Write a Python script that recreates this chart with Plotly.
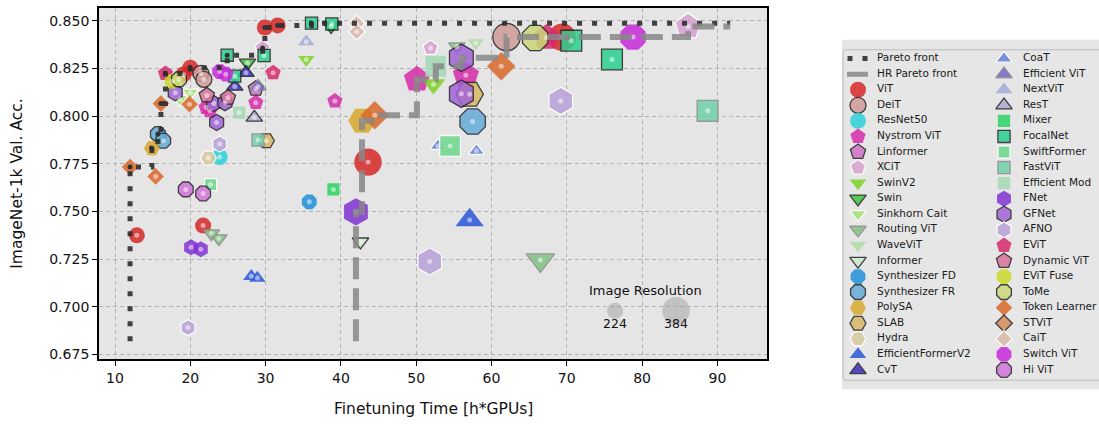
import plotly.graph_objects as go

# ---------------------------------------------------------------------------
# Finetuning cost [h*GPUs], ImageNet-1k top-1 accuracy and image resolution
# ---------------------------------------------------------------------------
vit_time = [12.9, 21.7, 19.1, 20.0, 29.9, 31.6, 43.6, 69.4]
vit_acc = [0.7375, 0.7426, 0.8219, 0.8254, 0.8465, 0.8476, 0.7759, 0.8414]
vit_res = [224, 224, 224, 224, 224, 224, 384, 384]

deit_time = [21.4, 21.8, 62.0]
deit_acc = [0.8224, 0.8193, 0.8415]
deit_res = [224, 224, 384]

resnet50_time = [23.9]
resnet50_acc = [0.7786]
resnet50_res = [224]

nystrom_time = [22.1, 22.6, 28.7, 39.2, 50.1, 56.6]
nystrom_acc = [0.8045, 0.8028, 0.8071, 0.8080, 0.8193, 0.8214]
nystrom_res = [224, 224, 224, 224, 384, 384]

linformer_time = [28.7]
linformer_acc = [0.8144]
linformer_res = [224]

xcit_time = [29.6, 51.9, 86.1]
xcit_acc = [0.8358, 0.8358, 0.8470]
xcit_res = [224, 224, 384]

swinv2_time = [35.4, 52.3]
swinv2_acc = [0.8297, 0.8167]
swinv2_res = [224, 320]

swin_time = [27.6, 38.7]
swin_acc = [0.8280, 0.8472]
swin_res = [224, 224]

sinkhorn_time = [18.6, 20.0]
sinkhorn_acc = [0.8089, 0.8123]
sinkhorn_res = [224, 224]

routing_time = [22.8, 23.8, 55.4, 66.5]
routing_acc = [0.7385, 0.7359, 0.8366, 0.7245]
routing_res = [224, 224, 224, 384]

wavevit_time = [57.9]
wavevit_acc = [0.8384]
wavevit_res = [224]

informer_time = [42.6]
informer_acc = [0.7342]
informer_res = [224]

synth_fd_time = [35.8]
synth_fd_acc = [0.7551]
synth_fd_res = [224]

synth_fr_time = [15.7, 16.4, 57.5]
synth_fr_acc = [0.7906, 0.7871, 0.7972]
synth_fr_res = [224, 224, 384]

polysa_time = [14.9, 42.8]
polysa_acc = [0.7832, 0.7976]
polysa_res = [224, 384]

slab_time = [30.1, 57.1]
slab_acc = [0.7871, 0.8115]
slab_res = [224, 384]

hydra_time = [22.4]
hydra_acc = [0.7780]
hydra_res = [224]

effformer2_time = [28.1, 28.9, 57.1]
effformer2_acc = [0.7160, 0.7151, 0.7455]
effformer2_res = [224, 224, 384]

cvt_time = [25.9, 27.4]
cvt_acc = [0.8155, 0.8228]
cvt_res = [224, 224]

coat_time = [52.9, 58.0]
coat_acc = [0.7844, 0.7818]
coat_res = [224, 224]

effvit_time = [29.0]
effvit_acc = [0.8155]
effvit_res = [224]

nextvit_time = [35.4]
nextvit_acc = [0.8391]
nextvit_res = [224]

rest_time = [28.5]
rest_acc = [0.7993]
rest_res = [224]

mixer_time = [39.0]
mixer_acc = [0.7616]
mixer_res = [224]

focalnet_time = [24.9, 25.9, 29.8, 36.1, 38.8, 70.6, 76.0]
focalnet_acc = [0.8320, 0.8210, 0.8318, 0.8488, 0.8484, 0.8396, 0.8297]
focalnet_res = [224, 224, 224, 224, 224, 384, 384]

swiftformer_time = [22.7, 54.5]
swiftformer_acc = [0.7641, 0.7844]
swiftformer_res = [224, 384]

fastvit_time = [29.0, 88.7]
fastvit_acc = [0.7875, 0.8028]
fastvit_res = [224, 384]

effmod_time = [26.5, 52.6]
effmod_acc = [0.8019, 0.8262]
effmod_res = [224, 384]

fnet_time = [20.1, 21.4, 42.0]
fnet_acc = [0.7313, 0.7302, 0.7498]
fnet_res = [224, 224, 384]

gfnet_time = [18.0, 23.1, 24.6, 23.5, 56.0, 56.0]
gfnet_acc = [0.8123, 0.8066, 0.8071, 0.7967, 0.8306, 0.8118]
gfnet_res = [224, 224, 224, 224, 384, 384]

afno_time = [23.9, 19.7, 51.8, 69.2]
afno_acc = [0.7854, 0.6891, 0.7238, 0.8080]
afno_res = [224, 224, 384, 384]

evit_time = [16.7, 31.0, 67.3]
evit_acc = [0.8224, 0.8228, 0.8412]
evit_res = [224, 224, 384]

dynvit_time = [22.2, 25.0]
dynvit_acc = [0.8109, 0.8097]
dynvit_res = [224, 224]

evitfuse_time = [17.6]
evitfuse_acc = [0.8182]
evitfuse_res = [224]

tome_time = [18.5, 65.8]
tome_acc = [0.8193, 0.8410]
tome_res = [224, 384]

toklearner_time = [12.0, 15.4, 16.1, 19.9, 44.5, 61.3]
toklearner_acc = [0.7733, 0.7684, 0.8066, 0.8063, 0.8005, 0.8262]
toklearner_res = [224, 224, 224, 224, 384, 384]

stvit_time = []
stvit_acc = []
stvit_res = []

cait_time = [42.1, 42.1]
cait_acc = [0.8486, 0.8443]
cait_res = [224, 224]

switchvit_time = [23.9, 24.7, 78.8]
switchvit_acc = [0.8234, 0.8220, 0.8415]
switchvit_res = [224, 224, 384]

hivit_time = [19.4, 21.7]
hivit_acc = [0.7616, 0.7594]
hivit_res = [224, 224]

# Resolutions shown in the size key
key_res = [224, 384]

# Fronts start at this accuracy and run on to this finetuning time
FRONT_FLOOR = 0.682
FRONT_END = 91.7

# ---------------------------------------------------------------------------
# Styling
# ---------------------------------------------------------------------------
W, H = 1099, 426
PLOT_L, PLOT_R, PLOT_T, PLOT_B = 99, 767, 8, 362
X_RANGE = [7.875, 96.59]
Y_RANGE = [0.6724, 0.85677]
FONT = "DejaVu Sans"
BASE = 16.0          # marker size at 224 px
ALPHA = 0.85

SCALE = {"circle": 1.0, "pentagon": 1.0, "hexagon": 1.0, "hexagon2": 1.0,
         "octagon": 1.0, "square": 0.76, "triangle-up": 0.9,
         "triangle-down": 0.9, "diamond": 0.8}
EDGE = {"none": ("rgba(0,0,0,0)", 0), "black": ("#222222", 1.3),
        "white": ("#ffffff", 1.3), "gray": ("#8a8a8a", 1.3)}

# (label, times, accs, resolutions, symbol, colour, edge)
families = [
    ("ViT", vit_time, vit_acc, vit_res, "circle", "#d62728", "none"),
    ("DeiT", deit_time, deit_acc, deit_res, "circle", "#d29c98", "black"),
    ("ResNet50", resnet50_time, resnet50_acc, resnet50_res, "circle", "#2bd0d8", "none"),
    ("Nystrom ViT", nystrom_time, nystrom_acc, nystrom_res, "pentagon", "#d42ba8", "none"),
    ("Linformer", linformer_time, linformer_acc, linformer_res, "pentagon", "#d070c4", "black"),
    ("XCiT", xcit_time, xcit_acc, xcit_res, "pentagon", "#d8a2cf", "white"),
    ("SwinV2", swinv2_time, swinv2_acc, swinv2_res, "triangle-down", "#7fd12a", "none"),
    ("Swin", swin_time, swin_acc, swin_res, "triangle-down", "#3fc43f", "black"),
    ("Sinkhorn Cait", sinkhorn_time, sinkhorn_acc, sinkhorn_res, "triangle-down", "#a6e07a", "white"),
    ("Routing ViT", routing_time, routing_acc, routing_res, "triangle-down", "#82c282", "gray"),
    ("WaveViT", wavevit_time, wavevit_acc, wavevit_res, "triangle-down", "#b2d9a4", "none"),
    ("Informer", informer_time, informer_acc, informer_res, "triangle-down", "#c9e9c9", "black"),
    ("Synthesizer FD", synth_fd_time, synth_fd_acc, synth_fd_res, "octagon", "#1f8fd8", "none"),
    ("Synthesizer FR", synth_fr_time, synth_fr_acc, synth_fr_res, "octagon", "#65abd8", "black"),
    ("PolySA", polysa_time, polysa_acc, polysa_res, "hexagon2", "#d8a82a", "none"),
    ("SLAB", slab_time, slab_acc, slab_res, "hexagon2", "#d9b865", "black"),
    ("Hydra", hydra_time, hydra_acc, hydra_res, "hexagon2", "#d9c9a0", "white"),
    ("EfficientFormerV2", effformer2_time, effformer2_acc, effformer2_res, "triangle-up", "#2a55d8", "none"),
    ("CvT", cvt_time, cvt_acc, cvt_res, "triangle-up", "#3a2cc0", "black"),
    ("CoaT", coat_time, coat_acc, coat_res, "triangle-up", "#6483d8", "white"),
    ("Efficient ViT", effvit_time, effvit_acc, effvit_res, "triangle-up", "#7468c6", "gray"),
    ("NextViT", nextvit_time, nextvit_acc, nextvit_res, "triangle-up", "#a3abd9", "none"),
    ("ResT", rest_time, rest_acc, rest_res, "triangle-up", "#b3a9d1", "black"),
    ("Mixer", mixer_time, mixer_acc, mixer_res, "square", "#2bd163", "none"),
    ("FocalNet", focalnet_time, focalnet_acc, focalnet_res, "square", "#2bd08f", "black"),
    ("SwiftFormer", swiftformer_time, swiftformer_acc, swiftformer_res, "square", "#6cd98b", "white"),
    ("FastViT", fastvit_time, fastvit_acc, fastvit_res, "square", "#70d1a9", "gray"),
    ("Efficient Mod", effmod_time, effmod_acc, effmod_res, "square", "#a2d9b4", "none"),
    ("FNet", fnet_time, fnet_acc, fnet_res, "hexagon", "#8031d2", "none"),
    ("GFNet", gfnet_time, gfnet_acc, gfnet_res, "hexagon", "#a263d8", "black"),
    ("AFNO", afno_time, afno_acc, afno_res, "hexagon", "#b9a2d9", "white"),
    ("EViT", evit_time, evit_acc, evit_res, "pentagon", "#d6296a", "none"),
    ("Dynamic ViT", dynvit_time, dynvit_acc, dynvit_res, "pentagon", "#d8749a", "black"),
    ("EViT Fuse", evitfuse_time, evitfuse_acc, evitfuse_res, "octagon", "#c9d82a", "none"),
    ("ToMe", tome_time, tome_acc, tome_res, "octagon", "#c9d878", "black"),
    ("Token Learner", toklearner_time, toklearner_acc, toklearner_res, "diamond", "#d8692a", "none"),
    ("STViT", stvit_time, stvit_acc, stvit_res, "diamond", "#d98b5a", "black"),
    ("CaiT", cait_time, cait_acc, cait_res, "diamond", "#d9b9a9", "white"),
    ("Switch ViT", switchvit_time, switchvit_acc, switchvit_res, "octagon", "#c62ad8", "none"),
    ("Hi ViT", hivit_time, hivit_acc, hivit_res, "octagon", "#d173d8", "black"),
]


def pareto(times, accs):
    """Running maximum of accuracy over increasing finetuning time."""
    order = sorted(range(len(times)), key=lambda i: (times[i], -accs[i]))
    fx, fy, best = [], [], -1.0
    for i in order:
        if accs[i] > best:
            best = accs[i]
            fx.append(times[i])
            fy.append(accs[i])
    return fx, fy


all_t, all_a, all_r = [], [], []
for _, t, a, r, *_ in families:
    all_t += t
    all_a += a
    all_r += r

front_t, front_a = pareto(all_t, all_a)
hr_idx = [i for i, r in enumerate(all_r) if r > 224]
hr_t, hr_a = pareto([all_t[i] for i in hr_idx], [all_a[i] for i in hr_idx])
on_front = set(zip(front_t, front_a))

fig = go.Figure()

# model families
for name, t, a, r, sym, col, edge in families:
    if not t:
        continue
    ec, ew = EDGE[edge]
    fig.add_trace(go.Scatter(
        x=t, y=a, mode="markers", name=name, showlegend=False,
        marker=dict(symbol=sym, size=[BASE * SCALE[sym] * v / 224 for v in r],
                    color=col, opacity=ALPHA, line=dict(color=ec, width=ew)),
        hoverinfo="skip"))

# centre dots: dark for points on the Pareto front
light_x, light_y, dark_x, dark_y = [], [], [], []
for t, a in zip(all_t, all_a):
    if (t, a) in on_front:
        dark_x.append(t); dark_y.append(a)
    else:
        light_x.append(t); light_y.append(a)
fig.add_trace(go.Scatter(x=light_x, y=light_y, mode="markers", showlegend=False,
                         marker=dict(size=5, color="rgba(255,255,255,0.5)"), hoverinfo="skip"))
fig.add_trace(go.Scatter(x=dark_x, y=dark_y, mode="markers", showlegend=False,
                         marker=dict(size=5, color="#333333"), hoverinfo="skip"))

# Pareto fronts
fig.add_trace(go.Scatter(
    x=[front_t[0]] + front_t + [FRONT_END], y=[FRONT_FLOOR] + front_a + [front_a[-1]],
    mode="lines", line=dict(shape="hv", color="rgba(45,45,45,0.9)", width=5, dash="5px,10px"),
    showlegend=False, hoverinfo="skip"))
fig.add_trace(go.Scatter(
    x=[hr_t[0]] + hr_t + [FRONT_END], y=[FRONT_FLOOR] + hr_a + [hr_a[-1]],
    mode="lines", line=dict(shape="hv", color="rgba(135,135,135,0.85)", width=6, dash="22px,9px"),
    showlegend=False, hoverinfo="skip"))

# ---------------------------------------------------------------------------
# Legend panel drawn on its own pixel-scaled axes
# ---------------------------------------------------------------------------
LEG_X0, LEG_Y0, LEG_Y1 = 843, 50, 383
ROW0, ROW_STEP = 59, 15.68
COLS = [(858, 877), (1004, 1023)]
entries = [("Pareto front", None), ("HR Pareto front", None)] + [(f[0], f) for f in families]
n_rows = (len(entries) + 1) // 2

legend_text_x, legend_text_y, legend_text = [], [], []
for k, (label, fam) in enumerate(entries):
    col, row = divmod(k, n_rows)
    mx, tx = COLS[col]
    y = ROW0 + ROW_STEP * row
    legend_text_x.append(tx); legend_text_y.append(y); legend_text.append(label)
    if fam is None:
        if label == "Pareto front":
            fig.add_trace(go.Scatter(x=[847.5, 867.5], y=[y, y], mode="lines", xaxis="x2", yaxis="y2",
                                     line=dict(color="rgba(45,45,45,0.9)", width=5, dash="5px,10px"),
                                     showlegend=False, hoverinfo="skip"))
        else:
            fig.add_trace(go.Scatter(x=[847, 868], y=[y, y], mode="lines", xaxis="x2", yaxis="y2",
                                     line=dict(color="rgba(135,135,135,0.85)", width=5),
                                     showlegend=False, hoverinfo="skip"))
        continue
    _, _, _, _, sym, colr, edge = fam
    ec, ew = EDGE[edge]
    fig.add_trace(go.Scatter(x=[mx], y=[y], mode="markers", xaxis="x2", yaxis="y2",
                             marker=dict(symbol=sym, size=BASE * SCALE[sym], color=colr, opacity=ALPHA,
                                         line=dict(color=ec, width=ew)),
                             showlegend=False, hoverinfo="skip"))

fig.add_trace(go.Scatter(x=legend_text_x, y=legend_text_y, text=legend_text, mode="text",
                         textposition="middle right", xaxis="x2", yaxis="y2",
                         textfont=dict(family=FONT, size=10.5, color="#1a1a1a"),
                         showlegend=False, hoverinfo="skip"))

r = 4
box_path = (f"M{LEG_X0},{LEG_Y0 + r} Q{LEG_X0},{LEG_Y0} {LEG_X0 + r},{LEG_Y0} "
            f"L1110,{LEG_Y0} L1110,{LEG_Y1} L{LEG_X0 + r},{LEG_Y1} "
            f"Q{LEG_X0},{LEG_Y1} {LEG_X0},{LEG_Y1 - r} Z")

shapes = [dict(type="path", path=box_path, xref="x2", yref="y2", layer="below",
               fillcolor="#e6e6e6", line=dict(color="#c9c9c9", width=1.5))]


def note(px, py, text, size, **kw):
    """Text placed at a pixel position of the figure, centred on it."""
    return dict(x=px / W, y=1 - py / H, xref="paper", yref="paper", text=text,
                showarrow=False, xanchor="center", yanchor="middle",
                font=dict(family=FONT, size=size, color="#111"), **kw)


# size key for image resolution
KEY_X = [615, 676]
KEY_Y = 313
annotations = []
for kx, kr in zip(KEY_X, key_res):
    d = BASE * kr / 224
    shapes.append(dict(type="circle", xref="paper", yref="paper", xsizemode="pixel", ysizemode="pixel",
                       xanchor=kx / W, yanchor=1 - KEY_Y / H, x0=-d / 2, x1=d / 2, y0=-d / 2, y1=d / 2,
                       fillcolor="rgba(150,150,150,0.45)", line=dict(width=0), layer="above"))
    annotations.append(note(kx, 326, str(kr), 12.5))
annotations.append(note(645, 293, "Image Resolution", 13))

# axis titles
annotations.append(note((PLOT_L + PLOT_R) / 2, 412, "Finetuning Time [h*GPUs]", 15.5))
annotations.append(note(17, (PLOT_T + PLOT_B) / 2, "ImageNet-1k Val. Acc.", 15.5, textangle=-90))

axis_common = dict(showline=True, linecolor="black", linewidth=1.8, mirror=True,
                   ticks="outside", ticklen=5, tickwidth=1.3, tickcolor="black",
                   showgrid=True, gridcolor="#b3b3b3", gridwidth=1, griddash="4px,3px",
                   zeroline=False, tickfont=dict(family=FONT, size=14, color="#111"),
                   fixedrange=True)

fig.update_layout(
    width=W, height=H, margin=dict(l=0, r=0, t=0, b=0),
    paper_bgcolor="white", plot_bgcolor="#e5e5e5",
    font=dict(family=FONT),
    xaxis=dict(domain=[PLOT_L / W, PLOT_R / W], range=X_RANGE, tickvals=list(range(10, 100, 10)),
               anchor="y", **axis_common),
    yaxis=dict(domain=[1 - PLOT_B / H, 1 - PLOT_T / H], range=Y_RANGE,
               tickvals=[0.675 + 0.025 * i for i in range(8)], tickformat=".3f",
               anchor="x", **axis_common),
    xaxis2=dict(domain=[842 / W, 1.0], range=[842, 1099], visible=False, anchor="y2", fixedrange=True),
    yaxis2=dict(domain=[1 - 392 / H, 1 - 40 / H], range=[392, 40], visible=False, anchor="x2",
                fixedrange=True),
    shapes=shapes, annotations=annotations, showlegend=False,
)

fig.write_html("out.html")
